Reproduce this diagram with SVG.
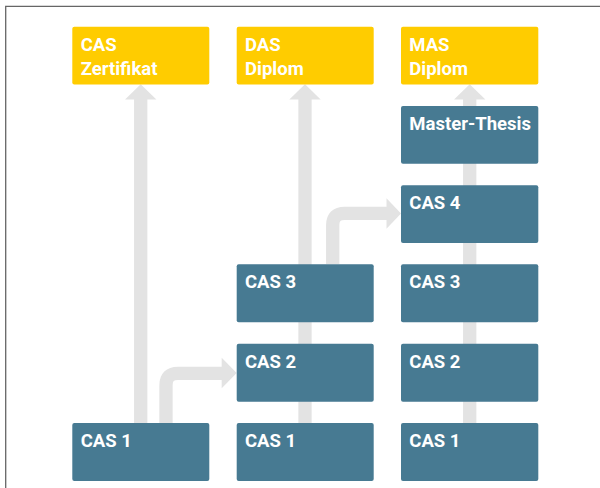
<svg xmlns="http://www.w3.org/2000/svg" width="600" height="488" viewBox="0 0 600 488">
<style>
.frame{fill:none;stroke:#666;stroke-width:1.3}
.y{fill:#FFCC00}
.b{fill:#477A92}
.t{fill:#fff;font-family:Roboto,"Open Sans",sans-serif;font-weight:700;font-size:18.5px}
.shaft{fill:none;stroke:#E3E3E3;stroke-width:13.3}
.head{fill:#E3E3E3}
</style>
<rect width="600" height="488" fill="#fff"/>
<path class="frame" d="M5.7,488 V6.3 H600"/>
<g id="connectors">
<line class="shaft" x1="140.7" y1="423" x2="140.7" y2="98"/>
<polygon class="head" points="125,99.5 140.7,84.3 156.4,99.5"/>
<line class="shaft" x1="305" y1="423" x2="305" y2="98"/>
<polygon class="head" points="289.3,99.5 305,84.3 320.7,99.5"/>
<line class="shaft" x1="469.7" y1="423" x2="469.7" y2="98"/>
<polygon class="head" points="454,99.5 469.7,84.3 485.4,99.5"/>
<path class="shaft" d="M166,423 V385.3 Q166,373.3 178,373.3 H223"/>
<polygon class="head" points="221.7,357.8 236.7,373 221.7,388.2"/>
<path class="shaft" d="M332.7,264 V225.3 Q332.7,213.3 344.7,213.3 H388"/>
<polygon class="head" points="386.5,198.3 401,213.5 386.5,228.7"/>
</g>
<g id="cas-zertifikat"><rect class="y" x="72.3" y="26.7" width="137" height="57.7" rx="2"/><text class="t" x="80.7"><tspan x="80.7" y="51">CAS</tspan><tspan x="80.7" y="75">Zertifikat</tspan></text></g>
<g id="das-diplom"><rect class="y" x="236.7" y="26.7" width="137" height="57.7" rx="2"/><text class="t"><tspan x="245" y="51">DAS</tspan><tspan x="245" y="75">Diplom</tspan></text></g>
<g id="mas-diplom"><rect class="y" x="401" y="26.7" width="137.3" height="57.7" rx="2"/><text class="t"><tspan x="409.3" y="51">MAS</tspan><tspan x="409.3" y="75">Diplom</tspan></text></g>
<g id="master-thesis"><rect class="b" x="401" y="106" width="137.3" height="57.7" rx="2"/><text class="t" x="409.3" y="130">Master-Thesis</text></g>
<g id="c3-cas4"><rect class="b" x="401" y="185.3" width="137.3" height="57.7" rx="2"/><text class="t" x="409.3" y="209.3">CAS 4</text></g>
<g id="c2-cas3"><rect class="b" x="236.7" y="264.3" width="137" height="58" rx="2"/><text class="t" x="245" y="288.3">CAS 3</text></g>
<g id="c3-cas3"><rect class="b" x="401" y="264.3" width="137.3" height="58" rx="2"/><text class="t" x="409.3" y="288.3">CAS 3</text></g>
<g id="c2-cas2"><rect class="b" x="236.7" y="343.7" width="137" height="58" rx="2"/><text class="t" x="245" y="367.7">CAS 2</text></g>
<g id="c3-cas2"><rect class="b" x="401" y="343.7" width="137.3" height="58" rx="2"/><text class="t" x="409.3" y="367.7">CAS 2</text></g>
<g id="c1-cas1"><rect class="b" x="72.3" y="423" width="137" height="58" rx="2"/><text class="t" x="80.7" y="447.3">CAS 1</text></g>
<g id="c2-cas1"><rect class="b" x="236.7" y="423" width="137" height="58" rx="2"/><text class="t" x="245" y="447.3">CAS 1</text></g>
<g id="c3-cas1"><rect class="b" x="401" y="423" width="137.3" height="58" rx="2"/><text class="t" x="409.3" y="447.3">CAS 1</text></g>
</svg>
